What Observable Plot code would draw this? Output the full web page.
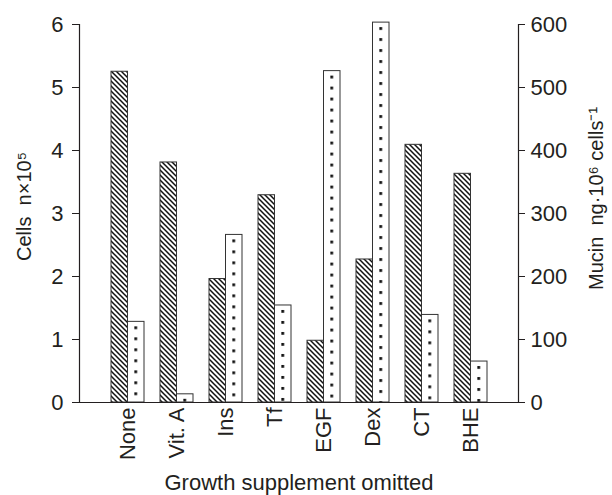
<!DOCTYPE html>
<html>
<head>
<meta charset="utf-8">
<script src="https://cdn.jsdelivr.net/npm/d3@7"></script>
<script src="https://cdn.jsdelivr.net/npm/@observablehq/plot@0.6"></script>
<style>
  html, body { margin: 0; padding: 0; background: #fff; }
</style>
</head>
<body>
<div id="chart"></div>
<script>
const categories = ["None", "Vit. A", "Ins", "Tf", "EGF", "Dex", "CT", "BHE"];
const cellsValues = [5.25, 3.81, 1.96, 3.29, 0.98, 2.27, 4.09, 3.63];      // n×10^5
const mucinValues = [128, 13, 266, 154, 526, 603, 139, 65];                 // ng·10^6 cells^-1
const leftTicks = [0, 1, 2, 3, 4, 5, 6];
const rightTickLabels = [0, 100, 200, 300, 400, 500, 600];
const leftTitle = "Cells  n×10⁵";
const rightTitle = "Mucin  ng·10⁶ cells⁻¹";
const xTitle = "Growth supplement omitted";

const mucinScale = 100; // right axis units per left axis unit
const data = categories.map((c, i) => ({cat: c, cells: cellsValues[i], mucin: mucinValues[i] / mucinScale}));

const ink = "#231f20";

const defs = () => {
  const d = d3.create("svg:defs");
  const p = d.append("pattern").attr("id", "hatch").attr("patternUnits", "userSpaceOnUse")
    .attr("width", 5).attr("height", 5);
  p.append("rect").attr("width", 5).attr("height", 5).attr("fill", "#fff");
  p.append("path").attr("d", "M-1,-1L6,6M-1,4L1,6M4,-1L6,1")
    .attr("stroke", "#111").attr("stroke-width", 1.5);
  return d.node();
};

const chart = Plot.plot({
  width: 612,
  height: 495,
  marginTop: 24,
  marginBottom: 93,
  marginLeft: 79,
  marginRight: 94,
  style: {fontFamily: "'Liberation Sans', Arial, sans-serif", fontSize: "22px", color: ink, background: "#fff"},
  x: {domain: categories, paddingInner: 0.328, paddingOuter: 0.634},
  y: {domain: [0, 6]},
  marks: [
    defs,
    Plot.barY(data, {x: "cat", y: "cells", fill: "url(#hatch)", stroke: "#333", strokeWidth: 1, insetRight: 16.5, insetLeft: 0}),
    Plot.barY(data, {x: "cat", y: "mucin", fill: "#fff", stroke: "#333", strokeWidth: 1, insetLeft: 16.5, insetRight: 0, className: "mucinbars"}),
    Plot.ruleY([0], {stroke: ink, strokeWidth: 1.2}),
    Plot.frame({anchor: "left", stroke: ink, strokeWidth: 1.2}),
    Plot.frame({anchor: "right", stroke: ink, strokeWidth: 1.2}),
    Plot.axisY({anchor: "left", ticks: leftTicks, tickFormat: d => String(d), tickSize: 7, tickPadding: 9, label: null, stroke: ink}),
    Plot.axisY({anchor: "right", ticks: leftTicks, tickFormat: (d, i) => String(rightTickLabels[i]), tickSize: 6, tickPadding: 6, label: null, stroke: ink}),
    Plot.axisX({tickRotate: -90, tickSize: 0, tickPadding: 5, label: null}),
    Plot.text([leftTitle], {frameAnchor: "left", textAnchor: "middle", rotate: -90, dx: -55, dy: -7, fill: ink, fontSize: 20}),
    Plot.text([rightTitle], {frameAnchor: "right", textAnchor: "middle", rotate: -90, dx: 78, dy: -15, fill: ink, fontSize: 20}),
    Plot.text([xTitle], {frameAnchor: "bottom", dy: 87, fill: ink, fontSize: 22})
  ]
});

// Dotted texture for the mucin bars: one centred column of dots per bar
const svg = d3.select(chart);
const svgDefs = svg.select("defs");
svg.selectAll("g.mucinbars rect").each(function(_, i) {
  const r = d3.select(this);
  const x = +r.attr("x"), w = +r.attr("width"), y = +r.attr("y");
  const id = "dots" + i;
  const p = svgDefs.append("pattern").attr("id", id).attr("patternUnits", "userSpaceOnUse")
    .attr("x", x + w / 2 - 1.4).attr("y", y + 5).attr("width", 1000).attr("height", 11);
  p.append("rect").attr("x", 0).attr("y", 0).attr("width", 1000).attr("height", 11).attr("fill", "#fff");
  p.append("rect").attr("x", 0).attr("y", 0).attr("width", 2.8).attr("height", 2.8).attr("fill", "#111");
  r.attr("fill", `url(#${id})`);
});

document.getElementById("chart").appendChild(chart);
</script>
</body>
</html>
